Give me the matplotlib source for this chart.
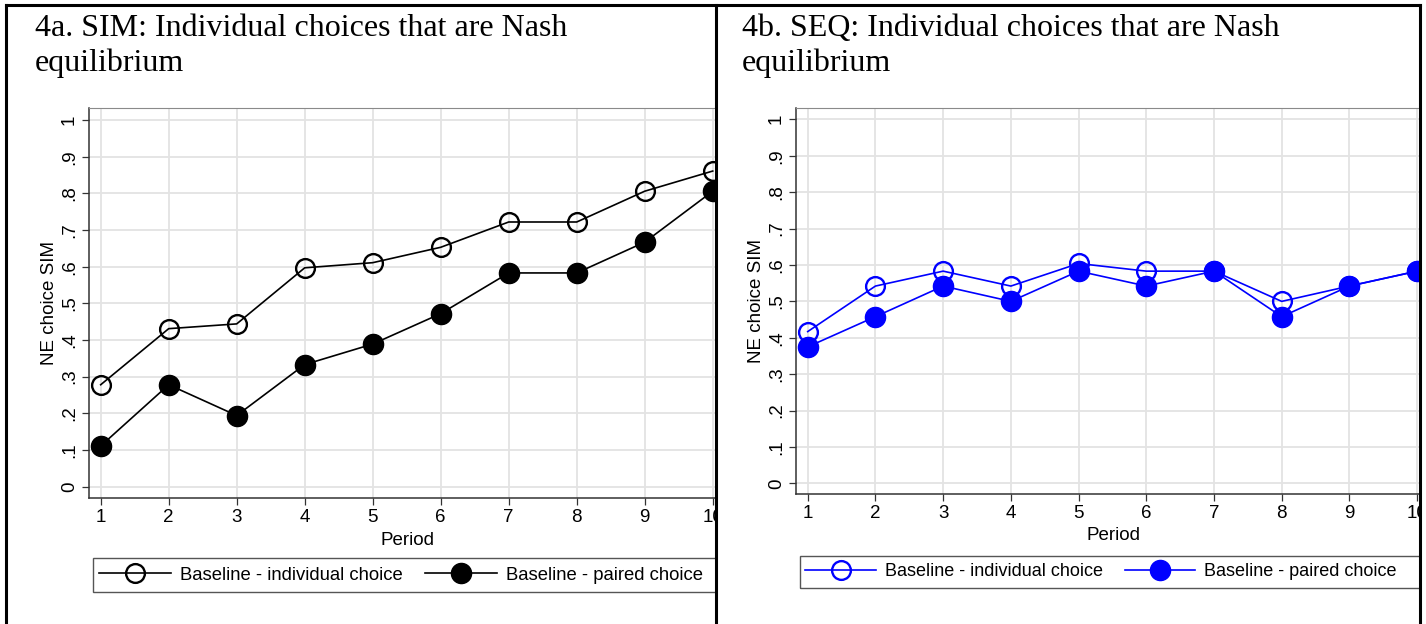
import matplotlib
matplotlib.use('Agg')
import matplotlib.pyplot as plt
from matplotlib.lines import Line2D
from matplotlib.patches import Rectangle

W, H = 1426, 624

periods = [1, 2, 3, 4, 5, 6, 7, 8, 9, 10]
sim_individual = [0.278, 0.431, 0.444, 0.597, 0.611, 0.653, 0.722, 0.722, 0.806, 0.861]
sim_paired = [0.111, 0.278, 0.194, 0.333, 0.389, 0.472, 0.583, 0.583, 0.667, 0.806]
seq_individual = [0.417, 0.542, 0.583, 0.542, 0.604, 0.583, 0.583, 0.500, 0.542, 0.583]
seq_paired = [0.375, 0.458, 0.542, 0.500, 0.583, 0.542, 0.583, 0.458, 0.542, 0.583]
yticks = [0, 0.1, 0.2, 0.3, 0.4, 0.5, 0.6, 0.7, 0.8, 0.9, 1.0]
ytick_labels = ['0', '.1', '.2', '.3', '.4', '.5', '.6', '.7', '.8', '.9', '1']
titles = ['4a. SIM: Individual choices that are Nash\nequilibrium',
          '4b. SEQ: Individual choices that are Nash\nequilibrium']
labels = ['Baseline - individual choice', 'Baseline - paired choice']

plt.rcParams['font.family'] = ['Liberation Sans', 'DejaVu Sans']
FS = 13.5


def fx(px):
    return px / W


def fy(py):
    return 1 - py / H


fig = plt.figure(figsize=(W / 100, H / 100), dpi=100)
fig.patch.set_facecolor('white')

# pixel layout of each panel: axes box, x/y ranges, title, legend box
panels = [
    dict(box=(89, 108, 727, 498), xlim=(0.828, 10.21), ylim=(-0.031, 1.033),
         title_x=35, color='black', data=(sim_individual, sim_paired),
         leg_x=93, leg_y=(558, 592), xlab_top=532, ylab_x=49, leg_fs=13.3, z=0),
    dict(box=(796, 108, 1430, 494), xlim=(0.827, 10.19), ylim=(-0.029, 1.031),
         title_x=742, color='#0000ff', data=(seq_individual, seq_paired),
         leg_x=800, leg_y=(556, 588), xlab_top=527, ylab_x=756, leg_fs=13.0, z=2),
]

for i, p in enumerate(panels):
    l, t, r, b = p['box']
    ax = fig.add_axes([fx(l), fy(b), fx(r) - fx(l), (b - t) / H])
    ax.set_zorder(p['z'])
    c = p['color']
    ind, par = p['data']
    ax.plot(periods, ind, color=c, lw=1.2, marker='o', ms=13.5, mfc='none',
            mec=c, mew=1.7, label=labels[0], zorder=3)
    ax.plot(periods, par, color=c, lw=1.2, marker='o', ms=14.5, mfc=c,
            mec=c, label=labels[1], zorder=3)
    ax.set_xlim(*p['xlim'])
    ax.set_ylim(*p['ylim'])
    ax.set_xticks(periods)
    ax.set_yticks(yticks)
    ax.set_yticklabels(ytick_labels, rotation=90, va='center')
    ax.grid(True, color='#e3e3e3', lw=1.3)
    ax.set_axisbelow(True)
    ax.tick_params(direction='out', length=5, width=0.9, color='#333333',
                   labelsize=FS, pad=3)
    for s in ['left', 'bottom']:
        ax.spines[s].set_color('#333333')
        ax.spines[s].set_linewidth(1.1)
    ax.spines['top'].set_color('#8a8a8a')
    ax.spines['right'].set_visible(False)
    ax.set_xlabel('Period', fontsize=FS)
    ax.xaxis.set_label_coords(0.5, -(p['xlab_top'] - b) / (b - t))
    ax.set_ylabel('NE choice SIM', fontsize=FS)
    ax.yaxis.label.set_va('center')
    ax.yaxis.set_label_coords((p['ylab_x'] - l) / (r - l), 0.5)

    ax.legend(loc='center left', ncol=2, frameon=False, fontsize=p['leg_fs'],
              bbox_to_anchor=(fx(p['leg_x']), fy(sum(p['leg_y']) / 2)),
              bbox_transform=fig.transFigure, borderaxespad=0,
              borderpad=0.3, handlelength=3.9, handletextpad=0.5,
              columnspacing=1.2)
    y0, y1 = p['leg_y']
    ax.add_patch(Rectangle((fx(p['leg_x']), fy(y1)), fx(p['leg_x'] + 700) - fx(p['leg_x']),
                           (y1 - y0) / H, transform=fig.transFigure, fill=False,
                           edgecolor='#555555', lw=1.0, clip_on=False))

    fig.text(fx(p['title_x']), fy(46), titles[i], family='Liberation Serif',
             fontsize=23, ha='left', va='center', linespacing=1.28)

# masks so each panel is cut at its frame
fig.add_artist(Rectangle((fx(716), 0), 1 - fx(716), fy(7), transform=fig.transFigure,
                         facecolor='white', edgecolor='none', zorder=1))
fig.add_artist(Rectangle((fx(1420), 0), 1, 1, transform=fig.transFigure,
                         facecolor='white', edgecolor='none', zorder=3))

# panel frames
for xs, ys in [((6, 6), (5, 624)), ((6, 1420), (5, 5)), ((715.5, 715.5), (5, 624)),
               ((1420, 1420), (5, 624))]:
    fig.add_artist(Line2D([fx(x) for x in xs], [fy(y) for y in ys],
                          transform=fig.transFigure, color='black', lw=2.2, zorder=5))

fig.savefig('out.png', dpi=100)
